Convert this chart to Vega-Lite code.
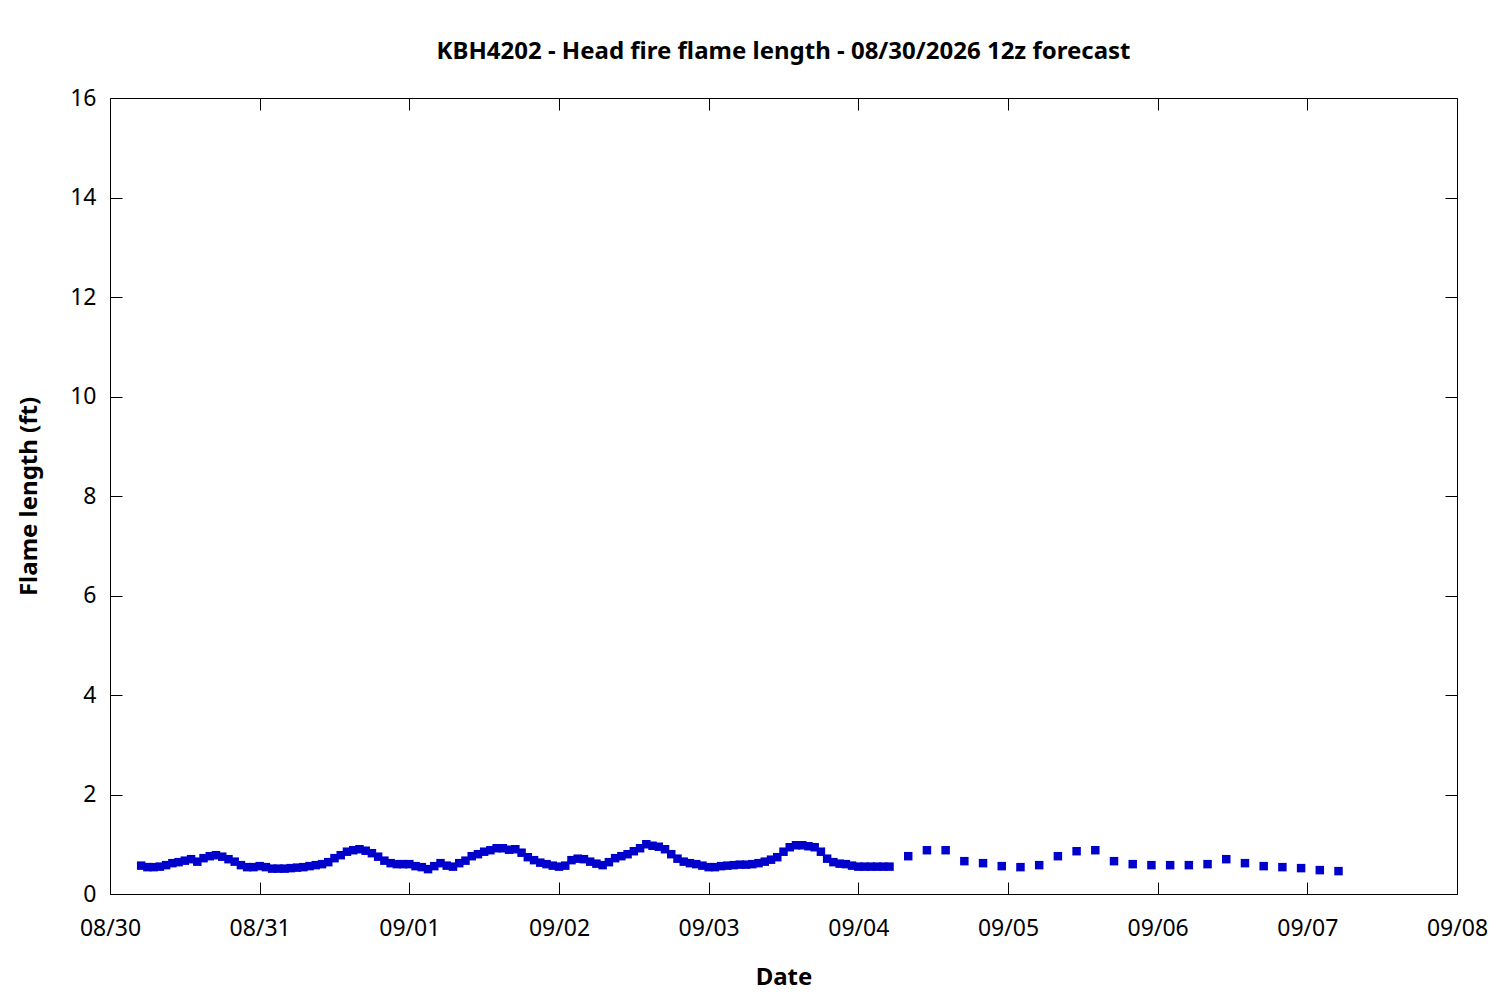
{
  "$schema": "https://vega.github.io/schema/vega-lite/v6.json",
  "width": 1347,
  "height": 796,
  "autosize": {"type": "none"},
  "padding": {"left": 110, "top": 98, "right": 43, "bottom": 106},
  "background": "white",
  "config": {
    "font": "Noto Sans",
    "view": {"stroke": "black", "strokeWidth": 1},
    "axis": {
      "grid": false,
      "domain": false,
      "labelFont": "Noto Sans",
      "labelFontSize": 23,
      "labelColor": "black",
      "titleFont": "Noto Sans",
      "titleFontSize": 24,
      "titleFontWeight": "bold",
      "titleColor": "black",
      "tickColor": "black",
      "tickWidth": 1,
      "tickSize": -12,
      "labelFlush": false,
      "labelOverlap": false,
      "labelBound": false
    }
  },
  "title": {
    "text": "KBH4202 - Head fire flame length - 08/30/2026 12z forecast",
    "font": "Noto Sans",
    "fontSize": 24,
    "fontWeight": "bold",
    "color": "black",
    "anchor": "middle",
    "baseline": "alphabetic",
    "offset": 4
  },
  "data": {
    "values": [
      {"t": "2026-08-30T05:00Z", "v": 0.57},
      {"t": "2026-08-30T06:00Z", "v": 0.54},
      {"t": "2026-08-30T07:00Z", "v": 0.54},
      {"t": "2026-08-30T08:00Z", "v": 0.55},
      {"t": "2026-08-30T09:00Z", "v": 0.58},
      {"t": "2026-08-30T10:00Z", "v": 0.62},
      {"t": "2026-08-30T11:00Z", "v": 0.64},
      {"t": "2026-08-30T12:00Z", "v": 0.67},
      {"t": "2026-08-30T13:00Z", "v": 0.70},
      {"t": "2026-08-30T14:00Z", "v": 0.65},
      {"t": "2026-08-30T15:00Z", "v": 0.72},
      {"t": "2026-08-30T16:00Z", "v": 0.76},
      {"t": "2026-08-30T17:00Z", "v": 0.78},
      {"t": "2026-08-30T18:00Z", "v": 0.75},
      {"t": "2026-08-30T19:00Z", "v": 0.70},
      {"t": "2026-08-30T20:00Z", "v": 0.65},
      {"t": "2026-08-30T21:00Z", "v": 0.58},
      {"t": "2026-08-30T22:00Z", "v": 0.54},
      {"t": "2026-08-30T23:00Z", "v": 0.54},
      {"t": "2026-08-31T00:00Z", "v": 0.56},
      {"t": "2026-08-31T01:00Z", "v": 0.54},
      {"t": "2026-08-31T02:00Z", "v": 0.51},
      {"t": "2026-08-31T03:00Z", "v": 0.51},
      {"t": "2026-08-31T04:00Z", "v": 0.51},
      {"t": "2026-08-31T05:00Z", "v": 0.52},
      {"t": "2026-08-31T06:00Z", "v": 0.53},
      {"t": "2026-08-31T07:00Z", "v": 0.54},
      {"t": "2026-08-31T08:00Z", "v": 0.56},
      {"t": "2026-08-31T09:00Z", "v": 0.58},
      {"t": "2026-08-31T10:00Z", "v": 0.60},
      {"t": "2026-08-31T11:00Z", "v": 0.64},
      {"t": "2026-08-31T12:00Z", "v": 0.72},
      {"t": "2026-08-31T13:00Z", "v": 0.78},
      {"t": "2026-08-31T14:00Z", "v": 0.85},
      {"t": "2026-08-31T15:00Z", "v": 0.88},
      {"t": "2026-08-31T16:00Z", "v": 0.90},
      {"t": "2026-08-31T17:00Z", "v": 0.87},
      {"t": "2026-08-31T18:00Z", "v": 0.82},
      {"t": "2026-08-31T19:00Z", "v": 0.75},
      {"t": "2026-08-31T20:00Z", "v": 0.67},
      {"t": "2026-08-31T21:00Z", "v": 0.62},
      {"t": "2026-08-31T22:00Z", "v": 0.60},
      {"t": "2026-08-31T23:00Z", "v": 0.60},
      {"t": "2026-09-01T00:00Z", "v": 0.60},
      {"t": "2026-09-01T01:00Z", "v": 0.56},
      {"t": "2026-09-01T02:00Z", "v": 0.54},
      {"t": "2026-09-01T03:00Z", "v": 0.50},
      {"t": "2026-09-01T04:00Z", "v": 0.56},
      {"t": "2026-09-01T05:00Z", "v": 0.62},
      {"t": "2026-09-01T06:00Z", "v": 0.57},
      {"t": "2026-09-01T07:00Z", "v": 0.55},
      {"t": "2026-09-01T08:00Z", "v": 0.62},
      {"t": "2026-09-01T09:00Z", "v": 0.67},
      {"t": "2026-09-01T10:00Z", "v": 0.76},
      {"t": "2026-09-01T11:00Z", "v": 0.80},
      {"t": "2026-09-01T12:00Z", "v": 0.85},
      {"t": "2026-09-01T13:00Z", "v": 0.88},
      {"t": "2026-09-01T14:00Z", "v": 0.92},
      {"t": "2026-09-01T15:00Z", "v": 0.92},
      {"t": "2026-09-01T16:00Z", "v": 0.89},
      {"t": "2026-09-01T17:00Z", "v": 0.90},
      {"t": "2026-09-01T18:00Z", "v": 0.83},
      {"t": "2026-09-01T19:00Z", "v": 0.74},
      {"t": "2026-09-01T20:00Z", "v": 0.68},
      {"t": "2026-09-01T21:00Z", "v": 0.63},
      {"t": "2026-09-01T22:00Z", "v": 0.60},
      {"t": "2026-09-01T23:00Z", "v": 0.57},
      {"t": "2026-09-02T00:00Z", "v": 0.55},
      {"t": "2026-09-02T01:00Z", "v": 0.57},
      {"t": "2026-09-02T02:00Z", "v": 0.68},
      {"t": "2026-09-02T03:00Z", "v": 0.71},
      {"t": "2026-09-02T04:00Z", "v": 0.70},
      {"t": "2026-09-02T05:00Z", "v": 0.65},
      {"t": "2026-09-02T06:00Z", "v": 0.61},
      {"t": "2026-09-02T07:00Z", "v": 0.58},
      {"t": "2026-09-02T08:00Z", "v": 0.64},
      {"t": "2026-09-02T09:00Z", "v": 0.72},
      {"t": "2026-09-02T10:00Z", "v": 0.76},
      {"t": "2026-09-02T11:00Z", "v": 0.80},
      {"t": "2026-09-02T12:00Z", "v": 0.86},
      {"t": "2026-09-02T13:00Z", "v": 0.92},
      {"t": "2026-09-02T14:00Z", "v": 1.00},
      {"t": "2026-09-02T15:00Z", "v": 0.97},
      {"t": "2026-09-02T16:00Z", "v": 0.95},
      {"t": "2026-09-02T17:00Z", "v": 0.90},
      {"t": "2026-09-02T18:00Z", "v": 0.80},
      {"t": "2026-09-02T19:00Z", "v": 0.71},
      {"t": "2026-09-02T20:00Z", "v": 0.65},
      {"t": "2026-09-02T21:00Z", "v": 0.62},
      {"t": "2026-09-02T22:00Z", "v": 0.60},
      {"t": "2026-09-02T23:00Z", "v": 0.57},
      {"t": "2026-09-03T00:00Z", "v": 0.54},
      {"t": "2026-09-03T01:00Z", "v": 0.54},
      {"t": "2026-09-03T02:00Z", "v": 0.56},
      {"t": "2026-09-03T03:00Z", "v": 0.57},
      {"t": "2026-09-03T04:00Z", "v": 0.58},
      {"t": "2026-09-03T05:00Z", "v": 0.59},
      {"t": "2026-09-03T06:00Z", "v": 0.59},
      {"t": "2026-09-03T07:00Z", "v": 0.60},
      {"t": "2026-09-03T08:00Z", "v": 0.62},
      {"t": "2026-09-03T09:00Z", "v": 0.65},
      {"t": "2026-09-03T10:00Z", "v": 0.69},
      {"t": "2026-09-03T11:00Z", "v": 0.74},
      {"t": "2026-09-03T12:00Z", "v": 0.85},
      {"t": "2026-09-03T13:00Z", "v": 0.94},
      {"t": "2026-09-03T14:00Z", "v": 0.98},
      {"t": "2026-09-03T15:00Z", "v": 0.98},
      {"t": "2026-09-03T16:00Z", "v": 0.96},
      {"t": "2026-09-03T17:00Z", "v": 0.94},
      {"t": "2026-09-03T18:00Z", "v": 0.85},
      {"t": "2026-09-03T19:00Z", "v": 0.71},
      {"t": "2026-09-03T20:00Z", "v": 0.64},
      {"t": "2026-09-03T21:00Z", "v": 0.61},
      {"t": "2026-09-03T22:00Z", "v": 0.60},
      {"t": "2026-09-03T23:00Z", "v": 0.57},
      {"t": "2026-09-04T00:00Z", "v": 0.55},
      {"t": "2026-09-04T01:00Z", "v": 0.55},
      {"t": "2026-09-04T02:00Z", "v": 0.55},
      {"t": "2026-09-04T03:00Z", "v": 0.55},
      {"t": "2026-09-04T04:00Z", "v": 0.55},
      {"t": "2026-09-04T05:00Z", "v": 0.55},
      {"t": "2026-09-04T08:00Z", "v": 0.76},
      {"t": "2026-09-04T11:00Z", "v": 0.88},
      {"t": "2026-09-04T14:00Z", "v": 0.88},
      {"t": "2026-09-04T17:00Z", "v": 0.66},
      {"t": "2026-09-04T20:00Z", "v": 0.62},
      {"t": "2026-09-04T23:00Z", "v": 0.56},
      {"t": "2026-09-05T02:00Z", "v": 0.54},
      {"t": "2026-09-05T05:00Z", "v": 0.58},
      {"t": "2026-09-05T08:00Z", "v": 0.76},
      {"t": "2026-09-05T11:00Z", "v": 0.86},
      {"t": "2026-09-05T14:00Z", "v": 0.88},
      {"t": "2026-09-05T17:00Z", "v": 0.66},
      {"t": "2026-09-05T20:00Z", "v": 0.60},
      {"t": "2026-09-05T23:00Z", "v": 0.58},
      {"t": "2026-09-06T02:00Z", "v": 0.58},
      {"t": "2026-09-06T05:00Z", "v": 0.58},
      {"t": "2026-09-06T08:00Z", "v": 0.60},
      {"t": "2026-09-06T11:00Z", "v": 0.70},
      {"t": "2026-09-06T14:00Z", "v": 0.62},
      {"t": "2026-09-06T17:00Z", "v": 0.56},
      {"t": "2026-09-06T20:00Z", "v": 0.54},
      {"t": "2026-09-06T23:00Z", "v": 0.52},
      {"t": "2026-09-07T02:00Z", "v": 0.48},
      {"t": "2026-09-07T05:00Z", "v": 0.46}
    ]
  },
  "layer": [
    {
      "mark": {"type": "point", "shape": "square", "filled": true, "size": 72, "color": "#0000cc", "opacity": 1},
      "encoding": {
        "x": {
          "field": "t",
          "type": "temporal",
          "scale": {
            "type": "utc",
            "domain": [
              {"year": 2026, "month": 8, "date": 30, "utc": true},
              {"year": 2026, "month": 9, "date": 8, "utc": true}
            ],
            "nice": false
          },
          "axis": {
            "orient": "bottom",
            "title": "Date",
            "labelExpr": "utcFormat(datum.value, '%m/%d')",
            "labelBaseline": "middle",
            "labelPadding": 46,
            "titleX": 673.5,
            "titleY": 83,
            "titleBaseline": "middle",
            "titleAlign": "center",
            "values": [
              {"year": 2026, "month": 8, "date": 30, "utc": true},
              {"year": 2026, "month": 8, "date": 31, "utc": true},
              {"year": 2026, "month": 9, "date": 1, "utc": true},
              {"year": 2026, "month": 9, "date": 2, "utc": true},
              {"year": 2026, "month": 9, "date": 3, "utc": true},
              {"year": 2026, "month": 9, "date": 4, "utc": true},
              {"year": 2026, "month": 9, "date": 5, "utc": true},
              {"year": 2026, "month": 9, "date": 6, "utc": true},
              {"year": 2026, "month": 9, "date": 7, "utc": true},
              {"year": 2026, "month": 9, "date": 8, "utc": true}
            ]
          }
        },
        "y": {
          "field": "v",
          "type": "quantitative",
          "scale": {"domain": [0, 16], "nice": false, "zero": true},
          "axis": {
            "orient": "left",
            "title": "Flame length (ft)",
            "values": [0, 2, 4, 6, 8, 10, 12, 14, 16],
            "labelPadding": 26,
            "titleX": -81,
            "titleY": 398,
            "titleBaseline": "middle",
            "titleAlign": "center",
            "titleAngle": -90
          }
        }
      }
    },
    {
      "mark": {"type": "point", "opacity": 0},
      "encoding": {
        "x": {
          "field": "t",
          "type": "temporal",
          "axis": {
            "orient": "top",
            "title": null,
            "labels": false,
            "values": [
              {"year": 2026, "month": 8, "date": 30, "utc": true},
              {"year": 2026, "month": 8, "date": 31, "utc": true},
              {"year": 2026, "month": 9, "date": 1, "utc": true},
              {"year": 2026, "month": 9, "date": 2, "utc": true},
              {"year": 2026, "month": 9, "date": 3, "utc": true},
              {"year": 2026, "month": 9, "date": 4, "utc": true},
              {"year": 2026, "month": 9, "date": 5, "utc": true},
              {"year": 2026, "month": 9, "date": 6, "utc": true},
              {"year": 2026, "month": 9, "date": 7, "utc": true},
              {"year": 2026, "month": 9, "date": 8, "utc": true}
            ]
          }
        },
        "y": {
          "field": "v",
          "type": "quantitative",
          "axis": {
            "orient": "right",
            "title": null,
            "labels": false,
            "values": [0, 2, 4, 6, 8, 10, 12, 14, 16]
          }
        }
      }
    }
  ],
  "resolve": {"axis": {"x": "independent", "y": "independent"}}
}
